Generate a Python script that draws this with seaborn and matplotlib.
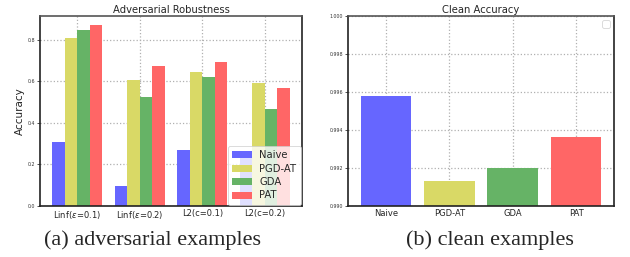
import matplotlib
matplotlib.use("Agg")
import matplotlib.pyplot as plt
import seaborn as sns
import pandas as pd
from matplotlib.ticker import FormatStrFormatter

attacks = ["Linf($\\epsilon$=0.1)", "Linf($\\epsilon$=0.2)", "L2(c=0.1)", "L2(c=0.2)"]
methods = ["Naive", "PGD-AT", "GDA", "PAT"]
naive_adv = [0.309, 0.096, 0.270, 0.25]
pgdat_adv = [0.806, 0.608, 0.642, 0.589]
gda_adv = [0.845, 0.526, 0.618, 0.464]
pat_adv = [0.869, 0.671, 0.690, 0.565]
clean_acc = [0.99579, 0.99132, 0.99198, 0.99363]
colors = ["#6666ff", "#d9d966", "#66b366", "#ff6666"]

sns.set_style("whitegrid")
plt.rcParams["font.family"] = ["DejaVu Sans"]

rows = []
for m, vals in zip(methods, [naive_adv, pgdat_adv, gda_adv, pat_adv]):
    for a, v in zip(attacks, vals):
        rows.append({"attack": a, "method": m, "acc": v})
df_adv = pd.DataFrame(rows)
df_clean = pd.DataFrame({"method": methods, "acc": clean_acc})

fig = plt.figure(figsize=(6.3, 2.57), dpi=100)
ax1 = fig.add_axes([40/630, 1-206/257, 262/630, 190/257])
ax2 = fig.add_axes([348/630, 1-206/257, 266/630, 190/257])

sns.barplot(data=df_adv, x="attack", y="acc", hue="method", order=attacks,
            hue_order=methods, palette=colors, saturation=1, ax=ax1,
            linewidth=0, width=0.8)
sns.barplot(data=df_clean, x="method", y="acc", hue="method", order=methods,
            hue_order=methods, palette=colors, saturation=1, ax=ax2,
            linewidth=0, width=0.8, legend=False)

for ax in (ax1, ax2):
    ax.set_xlim(-0.6, 3.6)
    ax.grid(True, linestyle=":", color="#b0b0b0", linewidth=0.9)
    ax.set_axisbelow(True)
    for s in ax.spines.values():
        s.set_color("#222222")
        s.set_linewidth(1.2)
    ax.spines["top"].set_color("#555555")
    ax.tick_params(axis="y", labelsize=3.4, length=2, width=0.6, pad=1.5, left=True, colors="#333333")
    ax.tick_params(axis="x", labelsize=6, length=0, pad=2)
    ax.set_xlabel("")

ax1.set_ylim(0, 0.9135)
ax1.set_yticks([0.0, 0.2, 0.4, 0.6, 0.8])
ax1.yaxis.set_major_formatter(FormatStrFormatter("%.1f"))
ax1.set_ylabel("Accuracy", fontsize=7.5, labelpad=2)
ax1.set_title("Adversarial Robustness", fontsize=7.2, pad=2)
leg = ax1.legend(loc="lower right", fontsize=7.2, borderaxespad=0.15,
                 framealpha=0.8, handlelength=2.0, handletextpad=0.8,
                 labelspacing=0.35, borderpad=0.4)
leg.get_frame().set_linewidth(0.6)

ax2.set_ylim(0.990, 1.000)
ax2.set_yticks([0.990, 0.992, 0.994, 0.996, 0.998, 1.000])
ax2.yaxis.set_major_formatter(FormatStrFormatter("%.3f"))
ax2.set_ylabel("")
ax2.set_title("Clean Accuracy", fontsize=7.2, pad=2)
leg2 = ax2.legend(handles=[], labels=[], loc="upper right", fontsize=7,
                  borderaxespad=0.4, framealpha=0.8)
leg2.get_frame().set_linewidth(0.6)

fig.text(152/630, 1-240/257, "(a) adversarial examples", ha="center", va="center",
         fontsize=16, family=["Liberation Serif"])
fig.text(490/630, 1-240/257, "(b) clean examples", ha="center", va="center",
         fontsize=16, family=["Liberation Serif"])

fig.savefig("out.png", dpi=100)
